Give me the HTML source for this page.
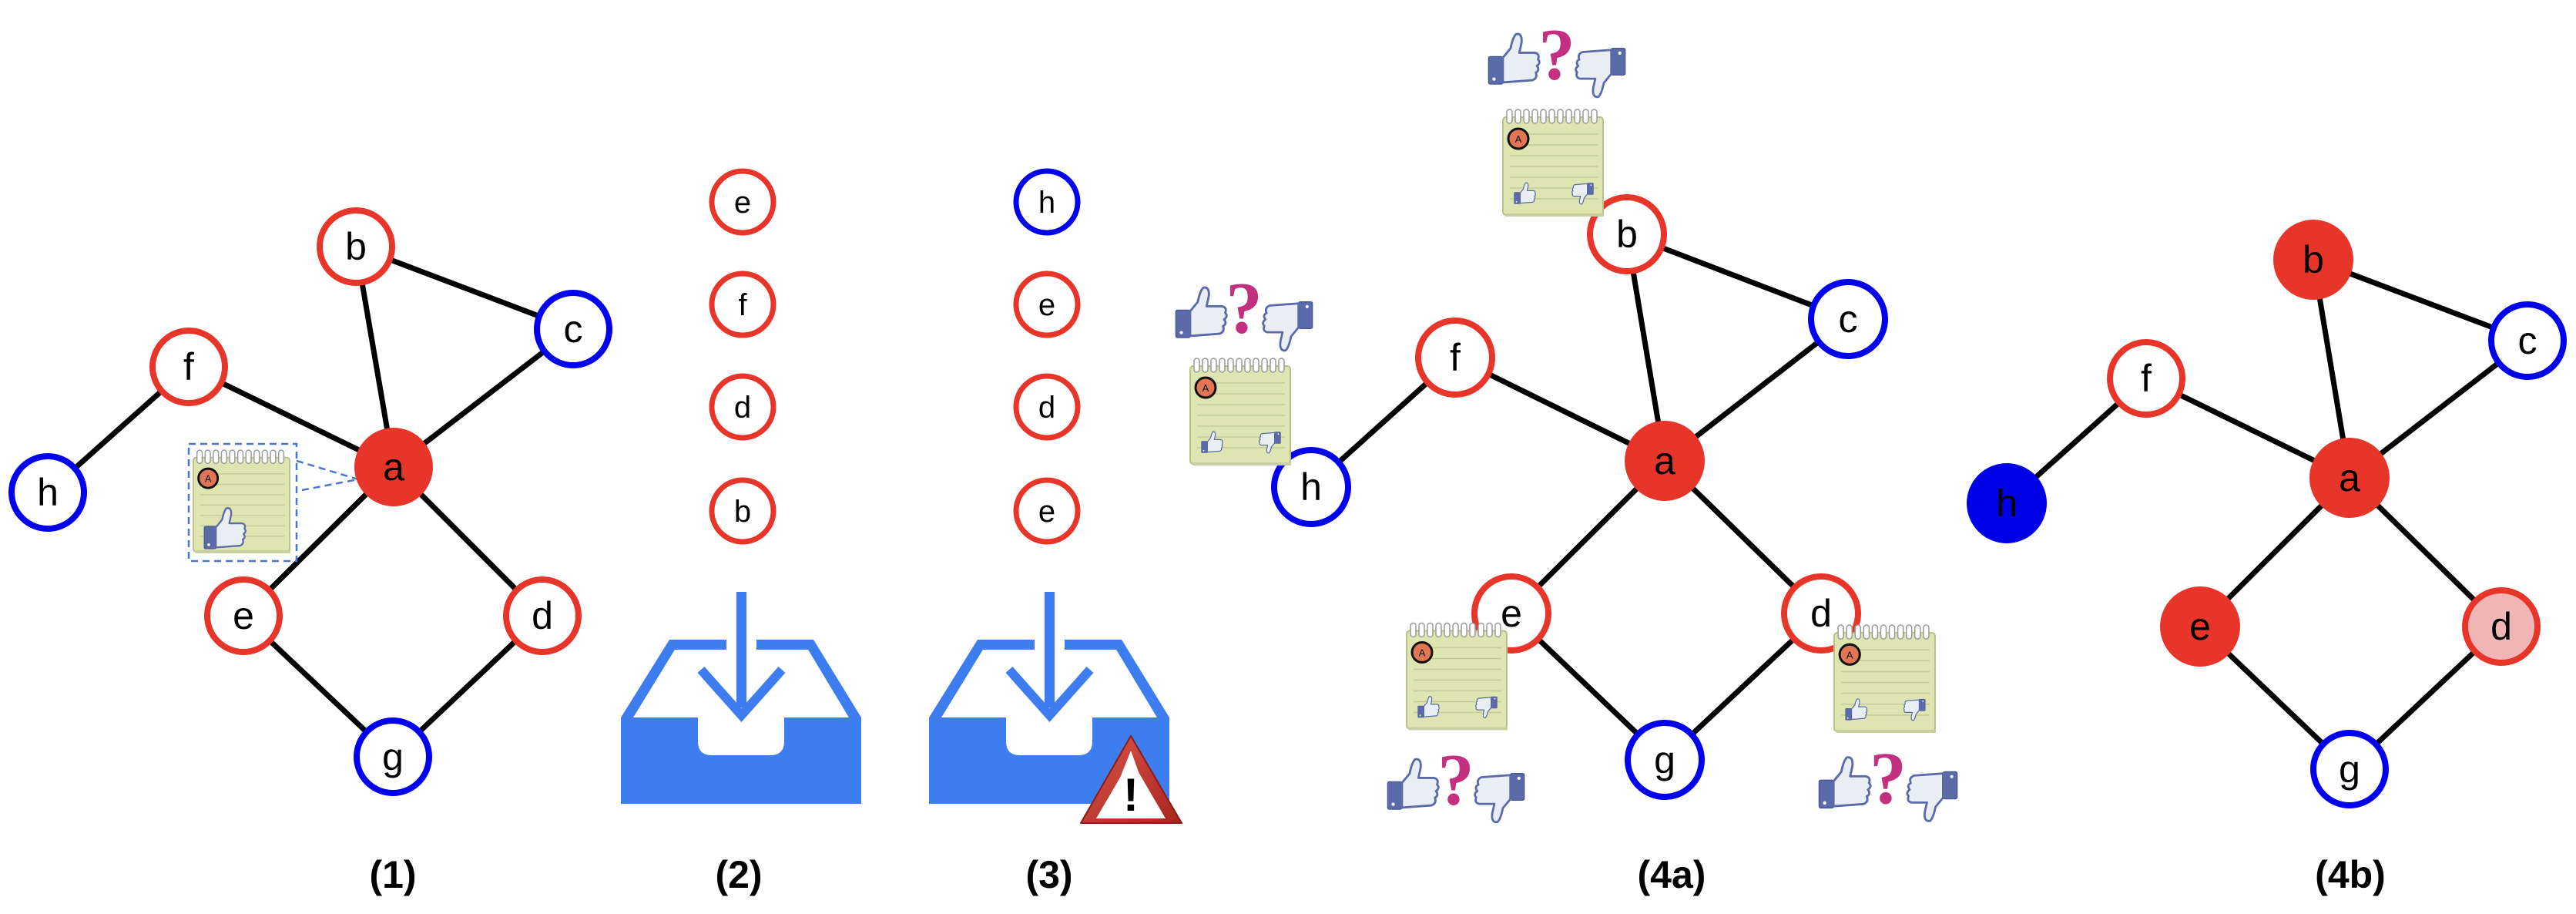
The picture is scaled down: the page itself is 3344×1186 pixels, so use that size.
<!DOCTYPE html>
<html><head><meta charset="utf-8"><style>
html,body{margin:0;padding:0;background:#fff;}
svg{display:block;}
</style></head><body>
<svg width="3344" height="1186" viewBox="0 0 3344 1186" xmlns="http://www.w3.org/2000/svg" font-family="Liberation Sans, sans-serif">
<defs>
  <symbol id="tu" viewBox="0 0 100 100">
    <rect x="2" y="45" width="26" height="50" rx="3" fill="#5b6aa8" stroke="#4a5890" stroke-width="2"/>
    <circle cx="12" cy="86" r="3" fill="#fff"/>
    <path d="M28 47 L42 30 Q46 10 52 4 Q64 2 62 20 L58 38 L86 38 Q96 40 92 50 Q98 56 90 62 Q96 70 88 74 Q92 84 82 88 L28 92 Z" fill="#e8eef4" stroke="#5b6aa8" stroke-width="4" stroke-linejoin="round"/>
  </symbol>
  <symbol id="td" viewBox="0 0 100 100">
    <g transform="translate(100,100) rotate(180)"><use href="#tu" width="100" height="100"/></g>
  </symbol>
  <symbol id="grp" viewBox="0 0 190 106">
    <use href="#tu" x="0" y="18" width="78" height="72"/>
    <text x="94" y="80" font-size="96" font-weight="bold" fill="#c2307f" text-anchor="middle" font-family="Liberation Serif, serif">?</text>
    <use href="#td" x="110" y="36" width="80" height="70"/>
  </symbol>
  <symbol id="pad" viewBox="0 0 136 142">
    <rect x="3" y="12" width="130" height="127" rx="4" fill="#dfe5b0" stroke="#b9c08c" stroke-width="2"/>
    <rect x="6" y="137" width="128" height="4" fill="#c9cfa0"/>
    <g stroke="#c4cb9a" stroke-width="1.5">
      <line x1="12" y1="34" x2="126" y2="34"/><line x1="12" y1="48" x2="126" y2="48"/>
      <line x1="12" y1="62" x2="126" y2="62"/><line x1="12" y1="76" x2="126" y2="76"/>
      <line x1="12" y1="90" x2="126" y2="90"/><line x1="12" y1="104" x2="126" y2="104"/>
      <line x1="12" y1="118" x2="126" y2="118"/>
    </g>
    <g fill="#fff" stroke="#9a9a9a" stroke-width="1.5">
      <rect x="8" y="2" width="7" height="18" rx="3.5"/><rect x="19" y="2" width="7" height="18" rx="3.5"/>
      <rect x="30" y="2" width="7" height="18" rx="3.5"/><rect x="41" y="2" width="7" height="18" rx="3.5"/>
      <rect x="52" y="2" width="7" height="18" rx="3.5"/><rect x="63" y="2" width="7" height="18" rx="3.5"/>
      <rect x="74" y="2" width="7" height="18" rx="3.5"/><rect x="85" y="2" width="7" height="18" rx="3.5"/>
      <rect x="96" y="2" width="7" height="18" rx="3.5"/><rect x="107" y="2" width="7" height="18" rx="3.5"/>
      <rect x="118" y="2" width="7" height="18" rx="3.5"/>
    </g>
    <circle cx="23" cy="40" r="13" fill="#e07656" stroke="#111" stroke-width="3"/>
    <text x="23" y="45" font-size="13" text-anchor="middle" fill="#111">A</text>
  </symbol>
  <symbol id="note4" viewBox="0 0 136 142">
    <use href="#pad" width="136" height="142"/>
    <use href="#tu" x="14" y="96" width="36" height="30"/>
    <use href="#td" x="88" y="96" width="36" height="30"/>
  </symbol>
  <linearGradient id="warn" x1="0" y1="0" x2="1" y2="1">
    <stop offset="0" stop-color="#d8574c"/><stop offset="1" stop-color="#a9241d"/>
  </linearGradient>
</defs>

<!-- ===== (1) ===== -->
<g stroke="#000" stroke-width="7">
  <line x1="462" y1="320" x2="744" y2="427"/>
  <line x1="462" y1="320" x2="511" y2="606"/>
  <line x1="744" y1="427" x2="511" y2="606"/>
  <line x1="245" y1="476" x2="511" y2="606"/>
  <line x1="245" y1="476" x2="62" y2="639"/>
  <line x1="511" y1="606" x2="316" y2="799"/>
  <line x1="511" y1="606" x2="704" y2="799"/>
  <line x1="316" y1="799" x2="510" y2="982"/>
  <line x1="704" y1="799" x2="510" y2="982"/>
</g>
<g stroke="#4a78c8" stroke-width="2.5" stroke-dasharray="9,6" fill="none">
  <rect x="245" y="576" width="140" height="152"/>
  <line x1="385" y1="598" x2="465" y2="622"/>
  <line x1="392" y1="636" x2="465" y2="622"/>
</g>
<use href="#pad" x="248" y="579" width="131" height="143"/>
<use href="#tu" x="262" y="657" width="62" height="58"/>
<g stroke-width="8" fill="#fff">
  <circle cx="462" cy="320" r="47" stroke="#e8352a"/>
  <circle cx="744" cy="427" r="47" stroke="#0000ee"/>
  <circle cx="245" cy="476" r="47" stroke="#e8352a"/>
  <circle cx="62" cy="639" r="47" stroke="#0000ee"/>
  <circle cx="511" cy="606" r="51" stroke="none" fill="#e8352a"/>
  <circle cx="316" cy="799" r="47" stroke="#e8352a"/>
  <circle cx="704" cy="799" r="47" stroke="#e8352a"/>
  <circle cx="510" cy="982" r="47" stroke="#0000ee"/>
</g>
<g font-size="50" text-anchor="middle" fill="#000">
  <text x="462" y="337">b</text><text x="744" y="444">c</text><text x="245" y="493">f</text>
  <text x="62" y="656">h</text><text x="511" y="623">a</text><text x="316" y="816">e</text>
  <text x="704" y="816">d</text><text x="510" y="999">g</text>
</g>

<!-- ===== (2) & (3) columns ===== -->
<g stroke-width="7" fill="#fff">
  <circle cx="964" cy="262" r="40" stroke="#e8352a"/>
  <circle cx="964" cy="395" r="40" stroke="#e8352a"/>
  <circle cx="964" cy="528" r="40" stroke="#e8352a"/>
  <circle cx="964" cy="663" r="40" stroke="#e8352a"/>
  <circle cx="1359" cy="262" r="40" stroke="#0000ee"/>
  <circle cx="1359" cy="395" r="40" stroke="#e8352a"/>
  <circle cx="1359" cy="528" r="40" stroke="#e8352a"/>
  <circle cx="1359" cy="663" r="40" stroke="#e8352a"/>
</g>
<g font-size="40" text-anchor="middle" fill="#000">
  <text x="964" y="276">e</text><text x="964" y="409">f</text><text x="964" y="542">d</text><text x="964" y="677">b</text>
  <text x="1359" y="276">h</text><text x="1359" y="409">e</text><text x="1359" y="542">d</text><text x="1359" y="677">e</text>
</g>

<g id="tray" fill="#3d7df0">
  <path d="M806 931 L906 931 L906 962 Q906 980 924 980 L1000 980 Q1018 980 1018 962 L1018 931 L1118 931 L1118 1043 L806 1043 Z"/>
  <path d="M806 931 L869 830 L943 830 L943 843 L876 843 L822 931 Z"/>
  <path d="M1118 931 L1056 830 L982 830 L982 843 L1049 843 L1102 931 Z"/>
  <rect x="956" y="768" width="13" height="150"/>
  <polyline points="910,869 962.5,928 1015,869" fill="none" stroke="#3d7df0" stroke-width="12"/>
</g>
<use href="#tray" x="400" y="0"/>
<path d="M1468 955 L1534 1068 L1403 1068 Z" fill="url(#warn)" stroke="#8a1c16" stroke-width="2" stroke-linejoin="round"/>
<path d="M1468 985 L1513 1062 L1423 1062 Z" fill="#fff"/>
<path d="M1468 974 L1498 1057 L1435 1057 Z" fill="#fff"/>
<text x="1468" y="1052" font-size="60" font-weight="bold" text-anchor="middle" fill="#000">!</text>

<!-- ===== (4a) ===== -->
<g stroke="#000" stroke-width="7">
  <line x1="2112" y1="304" x2="2399" y2="414"/>
  <line x1="2112" y1="304" x2="2161" y2="598"/>
  <line x1="2399" y1="414" x2="2161" y2="598"/>
  <line x1="1889" y1="464" x2="2161" y2="598"/>
  <line x1="1889" y1="464" x2="1702" y2="632"/>
  <line x1="2161" y1="598" x2="1962" y2="796"/>
  <line x1="2161" y1="598" x2="2364" y2="796"/>
  <line x1="1962" y1="796" x2="2161" y2="986"/>
  <line x1="2364" y1="796" x2="2161" y2="986"/>
</g>
<g stroke-width="8" fill="#fff">
  <circle cx="2112" cy="304" r="48" stroke="#e8352a"/>
  <circle cx="2399" cy="414" r="48" stroke="#0000ee"/>
  <circle cx="1889" cy="464" r="48" stroke="#e8352a"/>
  <circle cx="1702" cy="632" r="48" stroke="#0000ee"/>
  <circle cx="2161" cy="598" r="52" stroke="none" fill="#e8352a"/>
  <circle cx="1962" cy="796" r="48" stroke="#e8352a"/>
  <circle cx="2364" cy="796" r="48" stroke="#e8352a"/>
  <circle cx="2161" cy="986" r="48" stroke="#0000ee"/>
</g>
<use href="#note4" x="1948" y="140" width="136" height="142"/>
<use href="#note4" x="1542" y="463" width="136" height="142"/>
<use href="#note4" x="1823" y="806" width="136" height="143"/>
<use href="#note4" x="2378" y="809" width="137" height="143"/>
<use href="#grp" x="1928" y="23" width="188" height="106"/>
<use href="#grp" x="1522" y="352" width="188" height="106"/>
<use href="#grp" x="1797" y="964" width="188" height="106"/>
<use href="#grp" x="2357" y="962" width="190" height="106"/>
<g font-size="50" text-anchor="middle" fill="#000">
  <text x="2112" y="321">b</text><text x="2399" y="431">c</text><text x="1889" y="481">f</text>
  <text x="1702" y="649">h</text><text x="2161" y="615">a</text><text x="1962" y="813">e</text>
  <text x="2364" y="813">d</text><text x="2161" y="1003">g</text>
</g>

<!-- ===== (4b) ===== -->
<g stroke="#000" stroke-width="7">
  <line x1="3003" y1="337" x2="3281" y2="442"/>
  <line x1="3003" y1="337" x2="3050" y2="620"/>
  <line x1="3281" y1="442" x2="3050" y2="620"/>
  <line x1="2786" y1="491" x2="3050" y2="620"/>
  <line x1="2786" y1="491" x2="2605" y2="653"/>
  <line x1="3050" y1="620" x2="2856" y2="813"/>
  <line x1="3050" y1="620" x2="3247" y2="813"/>
  <line x1="2856" y1="813" x2="3050" y2="998"/>
  <line x1="3247" y1="813" x2="3050" y2="998"/>
</g>
<g stroke-width="8">
  <circle cx="3003" cy="337" r="52" fill="#e8352a"/>
  <circle cx="3281" cy="442" r="47" fill="#fff" stroke="#0000ee"/>
  <circle cx="2786" cy="491" r="47" fill="#fff" stroke="#e8352a"/>
  <circle cx="2605" cy="653" r="52" fill="#0000e6"/>
  <circle cx="3050" cy="620" r="52" fill="#e8352a"/>
  <circle cx="2856" cy="813" r="52" fill="#e8352a"/>
  <circle cx="3247" cy="813" r="47" fill="#f2b5b5" stroke="#e8352a"/>
  <circle cx="3050" cy="998" r="47" fill="#fff" stroke="#0000ee"/>
</g>
<g font-size="50" text-anchor="middle" fill="#000">
  <text x="3003" y="354">b</text><text x="3281" y="459">c</text><text x="2786" y="508">f</text>
  <text x="2605" y="670">h</text><text x="3050" y="637">a</text><text x="2856" y="830">e</text>
  <text x="3247" y="830">d</text><text x="3050" y="1015">g</text>
</g>

<!-- labels -->
<g font-size="50" font-weight="bold" text-anchor="middle" fill="#000">
  <text x="510" y="1152">(1)</text>
  <text x="959" y="1152">(2)</text>
  <text x="1362" y="1152">(3)</text>
  <text x="2170" y="1152">(4a)</text>
  <text x="3051" y="1152">(4b)</text>
</g>
</svg>
</body></html>
